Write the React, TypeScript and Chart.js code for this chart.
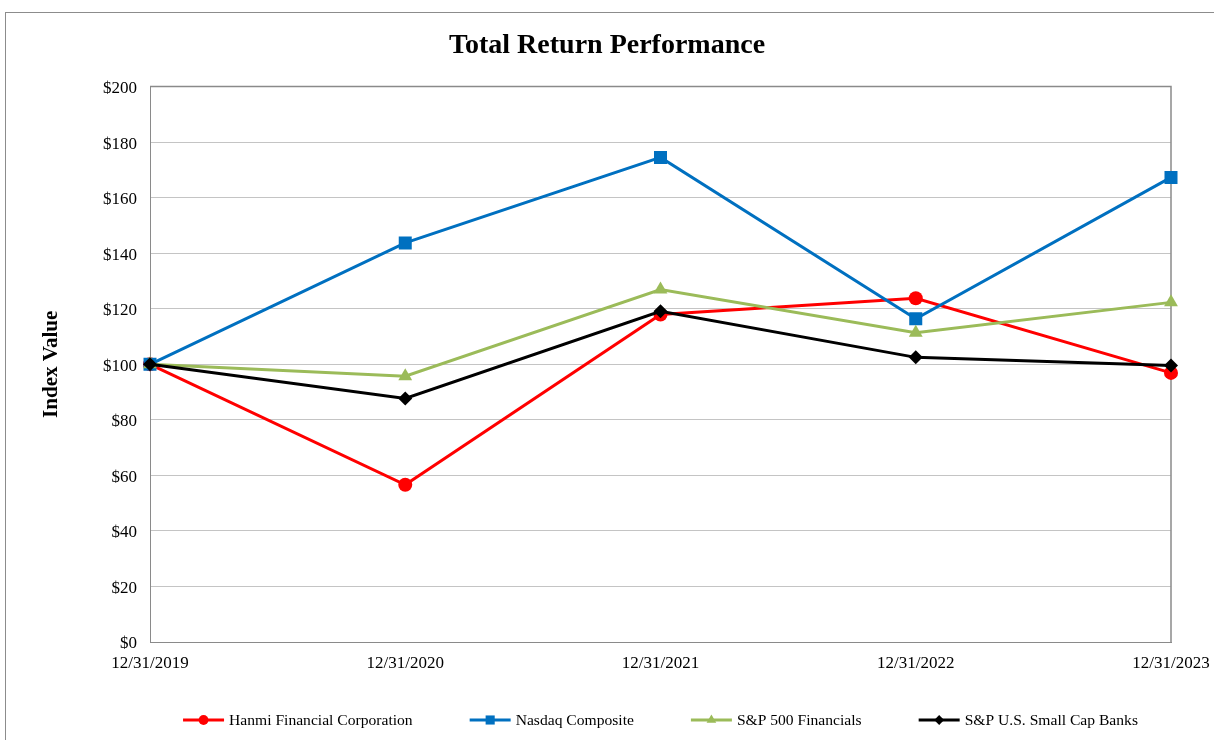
import React, { useEffect, useRef } from 'react';
import { Chart, registerables } from 'chart.js';
import { drawPoint } from 'chart.js/helpers';

Chart.register(...registerables);

const categories = ['12/31/2019', '12/31/2020', '12/31/2021', '12/31/2022', '12/31/2023'];
const hanmi = [100, 56.6, 117.9, 123.8, 96.9];
const nasdaq = [100, 143.7, 174.5, 116.4, 167.3];
const spFinancials = [100, 95.7, 126.9, 111.4, 122.3];
const smallCapBanks = [100, 87.7, 119.1, 102.5, 99.6];
const seriesNames = ['Hanmi Financial Corporation', 'Nasdaq Composite', 'S&P 500 Financials', 'S&P U.S. Small Cap Banks'];
const seriesColors = ['#ff0000', '#0070c0', '#9bbb59', '#000000'];
const seriesMarkers = ['circle', 'rect', 'triangle', 'rectRot'];
const markerRadius = [7, 9.2, 8, 7];
const yMin = 0;
const yMax = 200;
const yStep = 20;
const chartTitle = 'Total Return Performance';
const yAxisTitle = 'Index Value';

const FONT = '"Liberation Serif", "Times New Roman", serif';

const framePlugin = {
  id: 'frame',
  beforeDraw(chart: any) {
    const { ctx, width, height } = chart;
    ctx.save();
    ctx.fillStyle = '#ffffff';
    ctx.fillRect(0, 0, width, height);
    ctx.strokeStyle = '#8c8c8c';
    ctx.lineWidth = 1;
    ctx.strokeRect(5.5, 12.5, width + 10, height + 10);
    ctx.restore();
  },
  beforeDatasetsDraw(chart: any) {
    const { ctx, chartArea } = chart;
    ctx.save();
    ctx.strokeStyle = '#8a8a8a';
    ctx.lineWidth = 1.5;
    ctx.beginPath();
    ctx.moveTo(chartArea.left, chartArea.top);
    ctx.lineTo(chartArea.right, chartArea.top);
    ctx.lineTo(chartArea.right, chartArea.bottom);
    ctx.stroke();
    ctx.restore();
  },
};

const legendPlugin = {
  id: 'customLegend',
  afterDraw(chart: any) {
    const { ctx, chartArea } = chart;
    const lineLen = 41;
    const textGap = 5;
    const gap = 57;
    const y = 720;
    ctx.save();
    ctx.font = `15.6px ${FONT}`;
    ctx.textBaseline = 'middle';
    ctx.textAlign = 'left';
    const widths = seriesNames.map((n) => lineLen + textGap + ctx.measureText(n).width);
    const total = widths.reduce((a, b) => a + b, 0) + gap * (seriesNames.length - 1);
    let x = (chartArea.left + chartArea.right) / 2 - total / 2;
    seriesNames.forEach((name, i) => {
      ctx.strokeStyle = seriesColors[i];
      ctx.lineWidth = 3;
      ctx.beginPath();
      ctx.moveTo(x, y);
      ctx.lineTo(x + lineLen, y);
      ctx.stroke();
      ctx.fillStyle = seriesColors[i];
      drawPoint(ctx, { pointStyle: seriesMarkers[i], radius: markerRadius[i] * 0.7, rotation: 0, borderWidth: 0 } as any, x + lineLen / 2, y);
      ctx.fillStyle = '#000000';
      ctx.fillText(name, x + lineLen + textGap, y + 1);
      x += widths[i] + gap;
    });
    ctx.restore();
  },
};

export default function App() {
  const ref = useRef<HTMLCanvasElement>(null);
  useEffect(() => {
    const series = [hanmi, nasdaq, spFinancials, smallCapBanks];
    const chart = new Chart(ref.current!, {
      type: 'line',
      data: {
        labels: categories,
        datasets: series.map((d, i) => ({
          label: seriesNames[i],
          data: d,
          borderColor: seriesColors[i],
          backgroundColor: seriesColors[i],
          borderWidth: 3,
          pointStyle: seriesMarkers[i] as any,
          pointRadius: markerRadius[i],
          pointBorderWidth: 0,
          pointBackgroundColor: seriesColors[i],
          tension: 0,
          order: series.length - 1 - i,
        })),
      },
      options: {
        responsive: false,
        devicePixelRatio: 1,
        animation: false,
        events: [],
        layout: { padding: { left: 0, top: 12, right: 0, bottom: 60 } },
        plugins: {
          legend: { display: false },
          tooltip: { enabled: false },
          title: {
            display: true,
            text: chartTitle,
            color: '#000000',
            font: { family: FONT, size: 28, weight: 'bold' },
            padding: { top: 17, bottom: 24 },
          },
        },
        scales: {
          x: {
            type: 'category',
            offset: false,
            grid: { display: false, drawTicks: false },
            border: { display: true, color: '#8a8a8a', width: 1 },
            ticks: {
              color: '#000000',
              font: { family: FONT, size: 17 },
              padding: 11,
              maxRotation: 0,
              autoSkip: false,
            },
            afterFit: (s: any) => {
              s.height = 38;
              s.paddingLeft = 0;
              s.paddingRight = 43;
            },
          },
          y: {
            min: yMin,
            max: yMax,
            grid: { color: '#c4c4c4', lineWidth: 1, drawTicks: false },
            border: { display: true, color: '#8a8a8a', width: 1 },
            ticks: {
              stepSize: yStep,
              color: '#000000',
              font: { family: FONT, size: 17 },
              padding: 13,
              labelOffset: 2,
              callback: (v: any) => '$' + v,
            },
            title: {
              display: true,
              text: yAxisTitle,
              color: '#000000',
              font: { family: FONT, size: 21, weight: 'bold' },
              padding: { top: 39 },
            },
            afterFit: (s: any) => {
              s.width = 150;
            },
          },
        },
      },
      plugins: [framePlugin, legendPlugin],
    });
    return () => chart.destroy();
  }, []);
  return (
    <div style={{ position: 'fixed', left: 0, top: 0, width: 1214, height: 740 }}>
      <canvas ref={ref} width={1214} height={740} />
    </div>
  );
}
